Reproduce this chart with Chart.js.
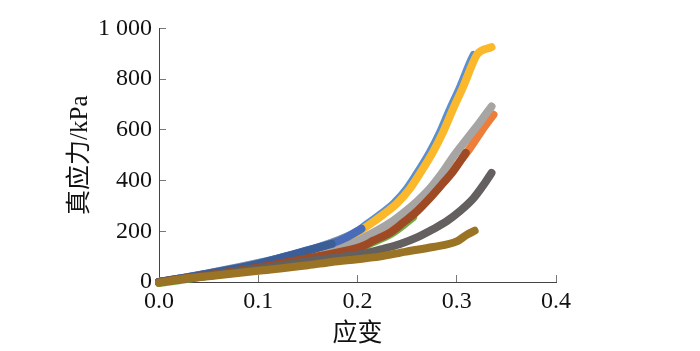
<!DOCTYPE html>
<html>
<head>
<meta charset="utf-8">
<script src="https://cdn.jsdelivr.net/npm/chart.js@4.4.1/dist/chart.umd.min.js"></script>
<style>
html,body{margin:0;padding:0;background:#fff;}
canvas{display:block;}
</style>
</head>
<body>
<canvas id="c" width="700" height="351"></canvas>
<script>
// ---- data (strain, true stress kPa) ----
const xTicks = [0, 0.1, 0.2, 0.3, 0.4];
const yTicks = [0, 200, 400, 600, 800, 1000];

const strainOlive = [0, 0.025, 0.05, 0.1, 0.15, 0.174, 0.2, 0.222, 0.249, 0.276, 0.3, 0.31, 0.318];
const stressOlive = [-3, 13, 23, 44, 66, 79, 90, 100, 120, 138, 160, 186, 202];

const strainDarkGray = [0, 0.05, 0.1, 0.15, 0.2, 0.209, 0.226, 0.243, 0.26, 0.276, 0.29, 0.303, 0.317, 0.327, 0.335];
const stressDarkGray = [0, 25, 52, 82, 108, 114, 131, 150, 176, 208, 240, 279, 331, 383, 430];

const strainBrown = [0, 0.05, 0.1, 0.15, 0.2, 0.206, 0.216, 0.233, 0.246, 0.26, 0.273, 0.286, 0.296, 0.309];
const stressBrown = [0, 27, 57, 94, 135, 143, 163, 195, 234, 279, 331, 389, 434, 509];

const strainDarkBlue = [0, 0.05, 0.1, 0.142, 0.174];
const stressDarkBlue = [0, 33, 71, 115, 150];

const strainBlue = [0, 0.05, 0.1, 0.142, 0.174, 0.19, 0.204];
const stressBlue = [0, 34, 72, 117, 152, 178, 210];

const strainGreen = [0, 0.05, 0.1, 0.15, 0.2, 0.216, 0.233, 0.246, 0.256];
const stressGreen = [-4, 24, 54, 90, 130, 157, 188, 224, 255];

const strainGold = [0, 0.05, 0.1, 0.15, 0.2, 0.21, 0.226, 0.24, 0.253, 0.266, 0.276, 0.286, 0.296, 0.3065, 0.3166, 0.321, 0.335];
const stressGold = [0, 33, 72, 120, 196, 221, 266, 311, 369, 447, 512, 589, 680, 770, 867, 900, 926];

const strainLightBlue = [0, 0.05, 0.1, 0.15, 0.2, 0.207, 0.223, 0.237, 0.25, 0.263, 0.273, 0.283, 0.293, 0.3035, 0.3136, 0.317];
const stressLightBlue = [0, 35, 75, 124, 200, 221, 266, 311, 369, 447, 512, 589, 680, 770, 867, 895];

const strainGray = [0, 0.05, 0.1, 0.15, 0.2, 0.216, 0.233, 0.246, 0.26, 0.273, 0.286, 0.296, 0.31, 0.323, 0.335];
const stressGray = [0, 30, 64, 106, 165, 195, 234, 272, 318, 369, 434, 492, 563, 628, 692];

const strainOrange = [0, 0.05, 0.1, 0.15, 0.2, 0.25, 0.28, 0.3, 0.3115, 0.325, 0.337];
const stressOrange = [0, 27, 57, 95, 148, 262, 365, 460, 518, 596, 660];

// first listed = drawn on top
const seriesList = [
  {x: strainOlive, y: stressOlive, color: '#9a7424'},
  {x: strainDarkGray, y: stressDarkGray, color: '#646060'},
  {x: strainBrown, y: stressBrown, color: '#9e4a24'},
  {x: strainDarkBlue, y: stressDarkBlue, color: '#3c5e96'},
  {x: strainBlue, y: stressBlue, color: '#4a6cb8'},
  {x: strainGreen, y: stressGreen, color: '#70ad47'},
  {x: strainGold, y: stressGold, color: '#fbb82a'},
  {x: strainLightBlue, y: stressLightBlue, color: '#5b8fd0'},
  {x: strainGray, y: stressGray, color: '#a7a4a4'},
  {x: strainOrange, y: stressOrange, color: '#ee7d3a'}
];

const datasets = seriesList.map(s => ({
  data: s.x.map((v, i) => ({x: v, y: s.y[i]})),
  showLine: true,
  borderColor: s.color,
  backgroundColor: s.color,
  borderWidth: 8,
  borderCapStyle: 'round',
  borderJoinStyle: 'round',
  pointRadius: 0,
  pointHoverRadius: 0,
  cubicInterpolationMode: 'monotone',
  clip: false
}));

const serif = '"Liberation Serif", "Times New Roman", "Noto Sans CJK SC", serif';

new Chart(document.getElementById('c'), {
  type: 'scatter',
  data: {datasets},
  options: {
    responsive: false,
    devicePixelRatio: 1,
    animation: false,
    layout: {padding: {left: 0, right: 144, top: 24, bottom: 0}},
    plugins: {legend: {display: false}, tooltip: {enabled: false}},
    scales: {
      x: {
        type: 'linear',
        min: 0, max: 0.4,
        afterBuildTicks: (sc) => { sc.ticks = xTicks.map(v => ({value: v})); },
        afterFit: (sc) => { sc.height = 69; },
        ticks: {
          padding: 12,
          color: '#111',
          font: {family: serif, size: 24},
          callback: (v) => Number(v).toFixed(1)
        },
        grid: {drawOnChartArea: false, tickLength: -7, color: '#777'},
        border: {display: true, color: '#444', width: 1},
        title: {
          display: true, text: '应变', color: '#111',
          font: {family: serif, size: 25},
          padding: {top: 0, bottom: 2}
        }
      },
      y: {
        type: 'linear',
        min: 0, max: 1000,
        afterBuildTicks: (sc) => { sc.ticks = yTicks.map(v => ({value: v})); },
        afterFit: (sc) => { sc.width = 159; },
        ticks: {
          padding: 14,
          color: '#111',
          font: {family: serif, size: 24},
          callback: (v) => v >= 1000 ? String(v).replace(/(\d)(\d{3})$/, '$1 $2') : String(v)
        },
        grid: {drawOnChartArea: false, tickLength: -7, color: '#777'},
        border: {display: true, color: '#444', width: 1},
        title: {
          display: true, text: '真应力/kPa', color: '#111',
          font: {family: serif, size: 25},
          padding: {top: 65, bottom: 0}
        }
      }
    }
  }
});
</script>
</body>
</html>
